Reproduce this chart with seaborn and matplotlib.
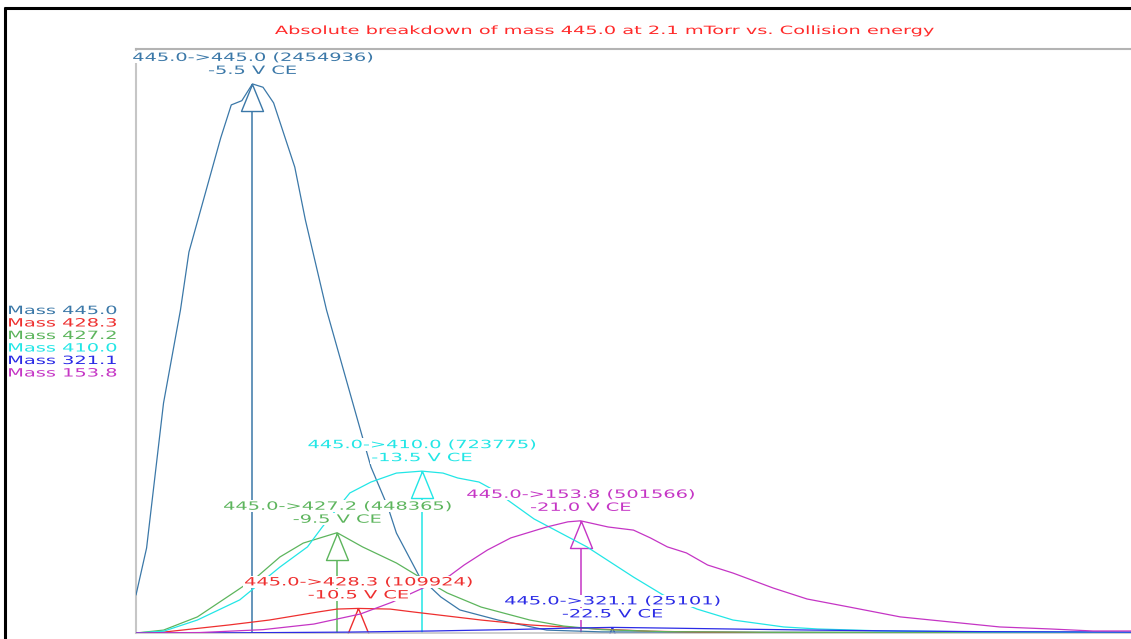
import numpy as np
import pandas as pd
import matplotlib
matplotlib.use("Agg")
import matplotlib.pyplot as plt
import seaborn as sns
from matplotlib.lines import Line2D
from matplotlib.patheffects import AbstractPathEffect
from matplotlib.transforms import Affine2D
from matplotlib.path import Path
from matplotlib.colors import to_rgba

# ---------------------------------------------------------------- data
precursor = 445.0
pressure = 2.1
products = [445.0, 428.3, 427.2, 410.0, 321.1, 153.8]
colors = ["#3b78a8", "#ee2f2f", "#5db55d", "#22e6e6", "#2b2be6", "#c535c5"]

# collision energy (V) and absolute intensity (counts) for each product ion
ce_445 = [0.0, -0.5, -1.3, -2.1, -2.5, -4.0, -4.5, -5.0, -5.5, -6.0, -6.5, -7.5,
          -8.0, -9.0, -10.6, -11.1, -11.9, -12.3, -13.4, -14.4, -15.3, -17.1,
          -19.4, -22.0, -30.0, -47.0]
int_445 = [170000, 380000, 1028000, 1444000, 1703000, 2213000, 2361000, 2380000,
           2454936, 2440000, 2370000, 2083000, 1847000, 1444000, 908000, 742000,
           563000, 447000, 250000, 161000, 103000, 58000, 13000, 5000, 3000, 2000]

ce_428 = [0.0, -1.3, -4.4, -6.3, -8.6, -9.5, -10.5, -12.0, -13.1, -14.7, -16.3,
          -18.6, -20.2, -21.8, -24.3, -26.7, -29.5, -47.0]
int_428 = [0, 4000, 36000, 58000, 94000, 107000, 109924, 107000, 94000, 76000,
           58000, 36000, 27000, 18000, 8000, 4000, 2000, 1000]

ce_427 = [0.0, -1.3, -2.9, -4.8, -5.7, -6.8, -7.9, -9.5, -10.7, -12.3, -13.4,
          -14.7, -16.3, -18.6, -20.2, -22.0, -25.0, -30.0, -47.0]
int_427 = [0, 13000, 72000, 192000, 250000, 340000, 402000, 448365, 385000,
           313000, 250000, 179000, 116000, 58000, 31000, 15000, 6000, 3000, 2000]

ce_410 = [0.0, -1.3, -2.9, -4.9, -6.8, -8.1, -8.8, -10.1, -11.1, -12.3, -13.5,
          -14.5, -15.2, -16.2, -16.9, -18.8, -21.3, -23.5, -24.9, -26.5, -28.2,
          -30.6, -32.2, -35.0, -40.0, -47.0]
int_410 = [0, 8000, 58000, 148000, 295000, 385000, 474000, 626000, 675000, 715000,
           723775, 715000, 693000, 675000, 639000, 510000, 385000, 250000, 170000,
           107000, 58000, 27000, 18000, 10000, 5000, 3000]

ce_321 = [0.0, -5.0, -10.0, -14.0, -18.0, -20.5, -22.5, -25.0, -28.0, -32.0,
          -36.0, -40.0, -44.0, -47.0]
int_321 = [0, 1000, 4000, 9000, 16000, 22000, 25101, 22000, 18000, 13000, 9000,
           6000, 5000, 4000]

ce_153 = [0.0, -3.0, -6.0, -8.4, -10.6, -12.1, -14.8, -15.5, -16.6, -17.7, -19.4,
          -20.4, -21.0, -22.3, -23.5, -24.3, -25.1, -26.0, -27.0, -28.2, -30.1,
          -31.7, -33.7, -36.1, -38.5, -40.8, -43.2, -45.2, -47.0]
int_153 = [0, 2000, 15000, 40000, 85000, 138000, 255000, 304000, 371000, 425000,
           474000, 497000, 501566, 474000, 460000, 425000, 385000, 358000, 304000,
           268000, 201000, 152000, 116000, 72000, 49000, 27000, 18000, 9000, 9000]

energies = [ce_445, ce_428, ce_427, ce_410, ce_321, ce_153]
intensities = [int_445, int_428, int_427, int_410, int_321, int_153]

# ---------------------------------------------------------------- helpers
class WideText(AbstractPathEffect):
    """Draw text widened horizontally, optionally on a white backing box."""

    def __init__(self, sx=1.7, anchor="center", backing=None):
        super().__init__()
        self.sx = sx
        self.anchor = anchor
        self.backing = backing

    def draw_path(self, renderer, gc, tpath, affine, rgbFace=None):
        ext = tpath.get_extents(affine)
        cx = ext.x0 if self.anchor == "left" else 0.5 * (ext.x0 + ext.x1)
        wide = affine + Affine2D().translate(-cx, 0).scale(self.sx, 1).translate(cx, 0)
        if self.backing is not None:
            wext = tpath.get_extents(wide)
            em = abs(affine.get_matrix()[1, 1]) * 100.0
            base = affine.transform((0.0, 0.0))[1]
            x0, x1 = wext.x0 - 2, wext.x1 + 2
            y0, y1 = base - 0.22 * em, base + 0.86 * em
            gc0 = renderer.new_gc()
            gc0.copy_properties(gc)
            gc0.set_linewidth(0)
            rect = Affine2D().scale(x1 - x0, y1 - y0).translate(x0, y0)
            renderer.draw_path(gc0, Path.unit_rectangle(), rect,
                               rgbFace=to_rgba(self.backing))
            gc0.restore()
        renderer.draw_path(gc, tpath, wide, rgbFace)


# ---------------------------------------------------------------- figure
sns.set_theme(style="white")
plt.rcParams["font.family"] = ["DejaVu Sans"]
FS = 8.2
W, H = 1131, 639

rows = []
for mass, ce, inten in zip(products, energies, intensities):
    for e, v in zip(ce, inten):
        rows.append({"product": f"{mass:.1f}", "ce": e, "intensity": v})
df = pd.DataFrame(rows)
palette = {f"{m:.1f}": c for m, c in zip(products, colors)}

fig = plt.figure(figsize=(W / 100, H / 100), dpi=100, facecolor="white")
ax = fig.add_axes([136 / W, (H - 633) / H, (W - 136) / W, (633 - 49) / H])

sns.lineplot(data=df, x="ce", y="intensity", hue="product", palette=palette,
             hue_order=list(palette), estimator=None, sort=False, legend=False,
             linewidth=0.9, zorder=3, ax=ax)

ax.set_xlim(0, -47.0)
ax.set_ylim(0, 2.611e6)
ax.set_xticks([])
ax.set_yticks([])
ax.set_xlabel("")
ax.set_ylabel("")
ax.spines["right"].set_visible(False)
ax.spines["top"].set_color("#b3b3b3")
ax.spines["top"].set_linewidth(1.5)
ax.spines["left"].set_color("#c6c6c6")
ax.spines["left"].set_linewidth(1.5)
ax.spines["bottom"].set_color("#c6c6c6")
ax.spines["bottom"].set_linewidth(1.2)

# open triangle with its apex on the data point
tri = [(0, 0), (-11, -27), (11, -27), (0, 0)]

for mass, ce, inten, c in zip(products, energies, intensities, colors):
    k = int(np.argmax(inten))
    e_pk, v_pk = ce[k], inten[k]
    ax.vlines(e_pk, 0, v_pk, color=c, lw=1.1, zorder=1.5)
    ax.plot([e_pk], [v_pk], marker=tri, ms=38.9, mfc="white", mec=c, mew=1.0,
            ls="none", zorder=2)
    line1 = f"{precursor:.1f}->{mass:.1f} ({int(v_pk)})"
    line2 = f"{e_pk:.1f} V CE"
    for txt, dy in ((line1, 23), (line2, 10)):
        ax.annotate(txt, xy=(e_pk, v_pk), xytext=(0, dy), textcoords="offset pixels",
                    ha="center", va="baseline", color=c, fontsize=FS, zorder=6,
                    annotation_clip=False,
                    path_effects=[WideText(1.7, backing="white")])

# title
fig.text(604.5 / W, 1 - 34 / H,
         f"Absolute breakdown of mass {precursor:.1f} at {pressure} mTorr vs. Collision energy",
         ha="center", va="baseline", color="#ff2b2b", fontsize=FS,
         path_effects=[WideText(1.7)])

# series key on the left
for i, (mass, c) in enumerate(zip(products, colors)):
    fig.text(8 / W, 1 - (314 + 12.5 * i) / H, f"Mass {mass:.1f}", ha="left",
             va="baseline", color=c, fontsize=FS,
             path_effects=[WideText(1.7, anchor="left")])

# outer frame (top and left edges)
fig.add_artist(Line2D([4 / W, 1.0], [1 - 8 / H, 1 - 8 / H], transform=fig.transFigure,
                      color="black", lw=2.2, solid_capstyle="butt"))
fig.add_artist(Line2D([5 / W, 5 / W], [0.0, 1 - 6.5 / H], transform=fig.transFigure,
                      color="black", lw=2.2, solid_capstyle="butt"))

fig.savefig("out.png", dpi=100, facecolor="white")
